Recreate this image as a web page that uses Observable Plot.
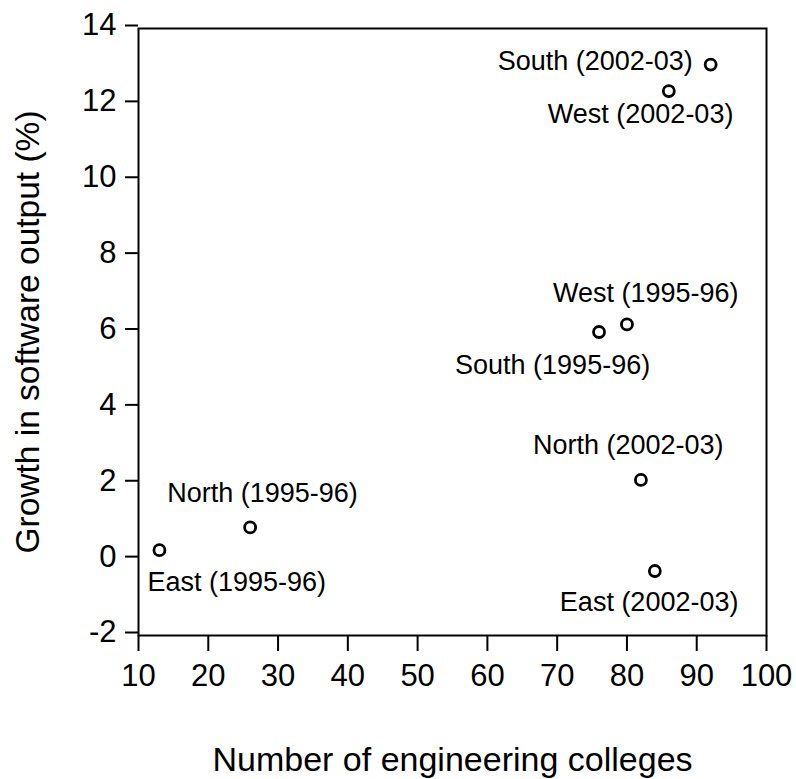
<!DOCTYPE html>
<html><head><meta charset="utf-8">
<script src="https://cdn.jsdelivr.net/npm/d3@7"></script>
<script src="https://cdn.jsdelivr.net/npm/@observablehq/plot@0.6"></script>
<style>body{margin:0;background:#fff}</style>
</head><body><div id="chart"></div>
<script>
// Data
const regions  = ["East", "North", "South", "West", "North", "East", "South", "West"];
const periods  = ["1995-96", "1995-96", "1995-96", "1995-96", "2002-03", "2002-03", "2002-03", "2002-03"];
const colleges = [13, 26, 76, 80, 82, 84, 92, 86];
const growth   = [0.25, 0.85, 6.0, 6.2, 2.1, -0.3, 13.05, 12.35];
const xTicks   = [10, 20, 30, 40, 50, 60, 70, 80, 90, 100];
const yTicks   = [-2, 0, 2, 4, 6, 8, 10, 12, 14];
const xTitle   = "Number of engineering colleges";
const yTitle   = "Growth in software output (%)";

const data = regions.map((r, i) => ({label: `${r} (${periods[i]})`, x: colleges[i], y: growth[i]}));

// label placement (pixel offsets from each point; left edge / baseline)
const placement = [
  {label: "East (1995-96)",  dx: -12,  dy: 41},
  {label: "North (1995-96)", dx: -83,  dy: -25},
  {label: "South (1995-96)", dx: -144, dy: 42},
  {label: "West (1995-96)",  dx: -74,  dy: -22},
  {label: "North (2002-03)", dx: -108, dy: -26},
  {label: "East (2002-03)",  dx: -95,  dy: 40},
  {label: "South (2002-03)", dx: -213, dy: 5},
  {label: "West (2002-03)",  dx: -121, dy: 32}
];

const font = "Liberation Sans, Arial, Helvetica, sans-serif";

const chart = Plot.plot({
  width: 796,
  height: 779,
  marginLeft: 138,
  marginRight: 30,
  marginTop: 28,
  marginBottom: 144,
  style: {fontFamily: font, background: "#fff", color: "#000", overflow: "visible"},
  x: {domain: [10, 100]},
  y: {domain: [-2, 14]},
  marks: [
    Plot.frame({stroke: "#000", strokeWidth: 2}),
    Plot.axisX({ticks: xTicks, tickSize: 16, tickPadding: 12, strokeWidth: 2, fontSize: 31, label: null, tickFormat: d => String(d)}),
    Plot.axisY({ticks: yTicks, tickSize: 13, tickPadding: 9, strokeWidth: 2, fontSize: 31, label: null, tickFormat: d => String(d), dy: -3}),
    Plot.text([xTitle], {frameAnchor: "bottom", dy: 135, lineAnchor: "bottom", textAnchor: "middle", fontSize: 34, fill: "#000"}),
    Plot.text([yTitle], {frameAnchor: "left", rotate: -90, dx: -123, lineAnchor: "top", textAnchor: "middle", fontSize: 33.5, fill: "#000"}),
    Plot.dot(data, {x: "x", y: "y", r: 5.5, stroke: "#000", strokeWidth: 2.8, fill: "none"}),
    ...placement.map(p => Plot.text(data.filter(d => d.label === p.label), {
      x: "x", y: "y", text: "label", dx: p.dx, dy: p.dy,
      textAnchor: "start", lineAnchor: "bottom", fontSize: 27, fill: "#000"
    }))
  ]
});
document.getElementById("chart").appendChild(chart);
</script>
</body></html>
